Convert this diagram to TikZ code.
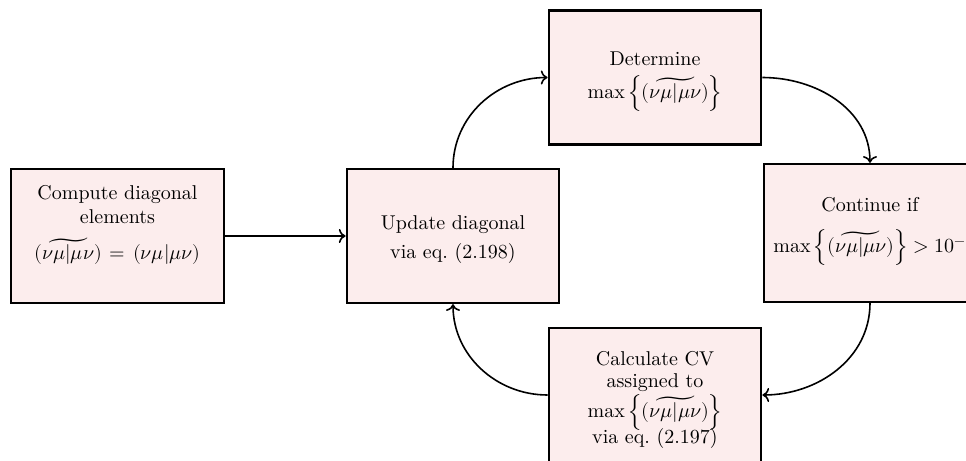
\documentclass[tikz,border=0pt]{standalone}
\usepackage{amsmath}
\usepackage{unicode-math}
\setmathfont{Latin Modern Math}
\usetikzlibrary{arrows.meta}
\definecolor{boxfill}{RGB}{252,237,237}
\tikzset{
  procbox/.style={draw=black, line width=1.2pt, fill=boxfill, text width=3.5cm,
    align=center, minimum height=67pt, inner sep=0.3333em, text height=8pt,
    execute at begin node={\lineskiplimit=-50pt\relax}},
  flow/.style={->, line width=0.8pt}
}
\newcommand{\tnm}{\widetilde{(\nu\mu|\mu\nu)}}
\newcommand{\maxtnm}{\max\left\{\tnm\right\}}
\begin{document}
\begin{tikzpicture}
  \useasboundingbox (0,0) rectangle (483pt,-230.5pt);
  \clip (0,0) rectangle (483pt,-230.5pt);

  \node[procbox, text depth=44.7pt] (init) at (58.75pt,-118pt)
    {Compute diagonal\\ elements\\[6pt] $\tnm = (\nu\mu|\mu\nu)$};
  \node[procbox, text depth=15pt] (update) at (226.5pt,-118pt)
    {Update diagonal\\[2.65pt] via eq.~(2.198)};
  \node[procbox, text depth=20.5pt] (findmax) at (327.5pt,-38.75pt)
    {Determine\\[4.5pt] $\maxtnm$};
  \node[procbox, minimum height=69pt, text depth=29.3pt] (check) at (435pt,-116.5pt)
    {Continue if\\[8.5pt] \mbox{\hspace{1.5pt}$\maxtnm > 10^{-7}$}};
  \node[procbox, text depth=37.3pt] (calc) at (327.5pt,-197.5pt)
    {Calculate CV\\[-1.15pt] assigned to\\[3.25pt] $\maxtnm$\\[0.6pt] via eq.~(2.197)};

  \draw[flow] (init) -- (update);
  \draw[flow] (update.north) to[out=90, in=180] (findmax.west);
  \draw[flow] (findmax.east) to[out=0, in=90] (check.north);
  \draw[flow] (check.south) to[out=-90, in=0] (calc.east);
  \draw[flow] (calc.west) to[out=180, in=-90] (update.south);
\end{tikzpicture}
\end{document}
